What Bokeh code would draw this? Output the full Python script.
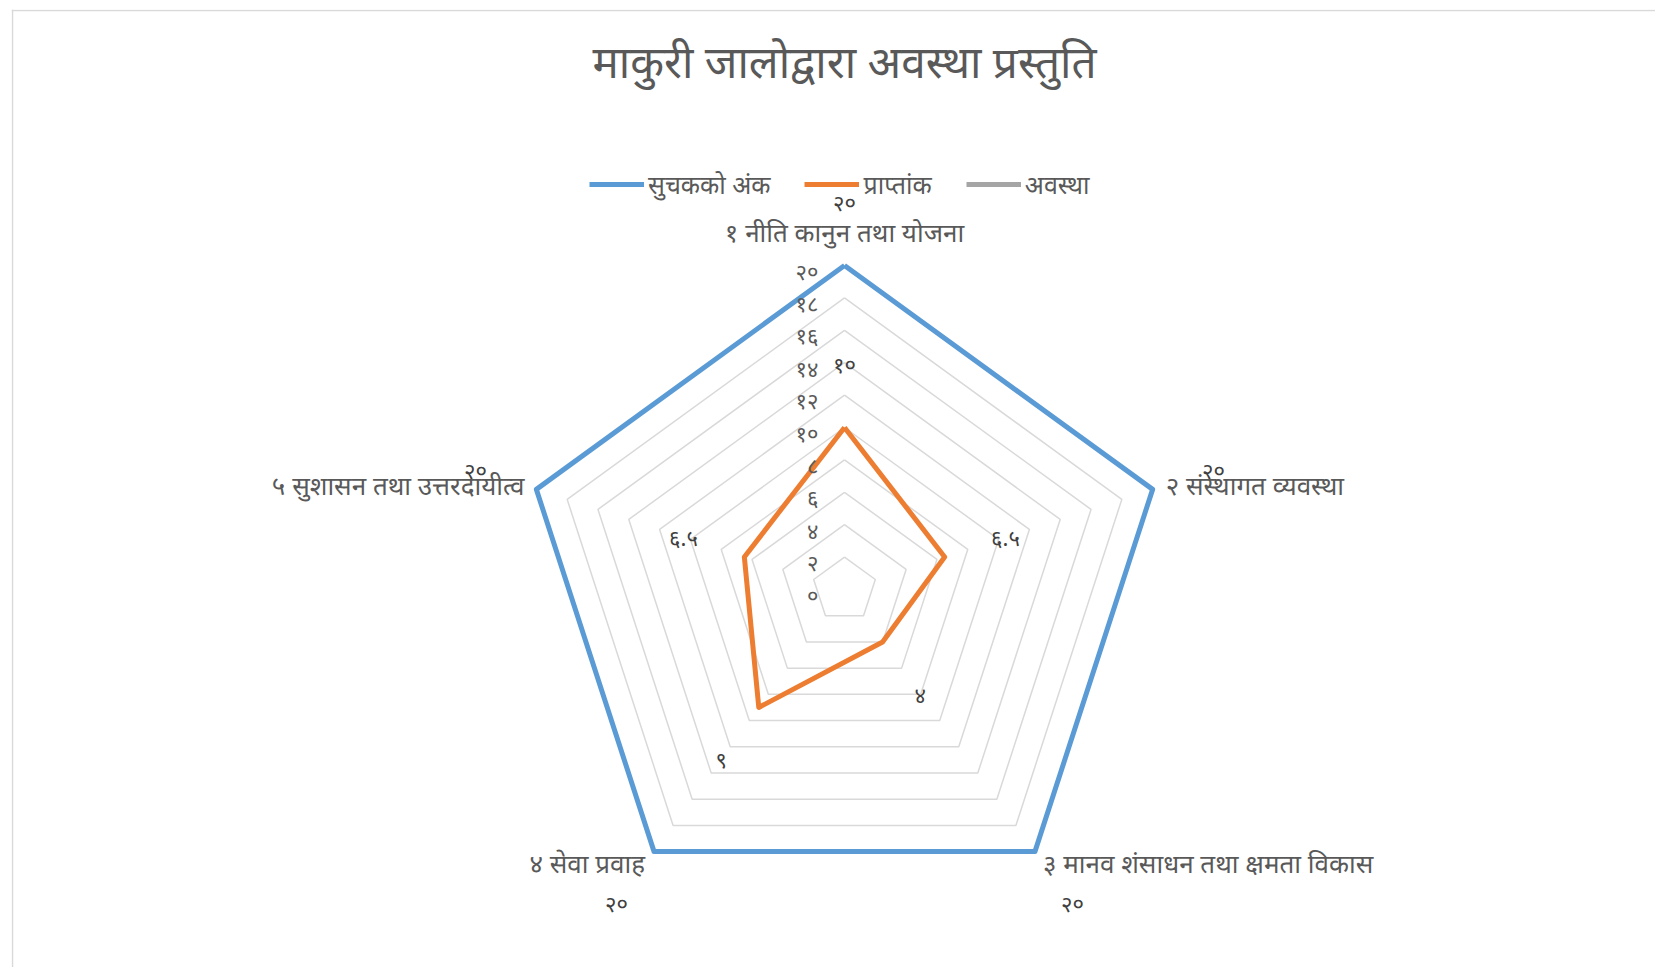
import numpy as np
from bokeh.plotting import figure
from bokeh.models import ColumnDataSource, Range1d, Legend, LegendItem, Span
from bokeh.core.properties import value
from bokeh.embed import file_html
from bokeh.resources import INLINE

# ---------------- data ----------------
title_text = "माकुरी जालोद्वारा अवस्था प्रस्तुति"
categories = [
    "१ नीति कानुन तथा योजना",
    "२ संस्थागत व्यवस्था",
    "३ मानव शंसाधन तथा क्षमता विकास",
    "४ सेवा प्रवाह",
    "५ सुशासन तथा उत्तरदायीत्व",
]
series_names = ["सुचकको अंक", "प्राप्तांक", "अवस्था"]
indicator_marks = [20, 20, 20, 20, 20]
indicator_labels = ["२०", "२०", "२०", "२०", "२०"]
obtained_marks = [10, 6.5, 4, 9, 6.5]
obtained_labels = ["१०", "६.५", "४", "९", "६.५"]
status_values = []  # third series has no plotted values
tick_values = [0, 2, 4, 6, 8, 10, 12, 14, 16, 18, 20]
tick_labels = ["०", "२", "४", "६", "८", "१०", "१२", "१४", "१६", "१८", "२०"]

# ---------------- layout / style ----------------
FONT = "Noto Sans"
W, H = 1644, 958
CX, CY = 833, 580          # radar centre in canvas pixels
PX = 16.2                  # pixels per unit
LABEL_PAD = 3.95           # data label radial offset (units)
BLUE, ORANGE, GRAY = "#5B9BD5", "#ED7D31", "#A5A5A5"
TEXT = "#595959"

n = len(categories)
theta = np.arange(n) * 2 * np.pi / n


def polar(vals, pad=0.0):
    v = np.asarray(vals, dtype=float) + pad
    return v * np.sin(theta), v * np.cos(theta)


def closed(vals):
    x, y = polar(vals)
    return list(x) + [x[0]], list(y) + [y[0]]


xr = Range1d(-CX / PX, (W - CX) / PX)
yr = Range1d(-(H - CY) / PX, CY / PX)
p = figure(width=W, height=H, margin=(9, 0, 0, 11), x_range=xr, y_range=yr,
           x_axis_location=None, y_axis_location=None,
           output_backend="svg", toolbar_location=None, min_border=0)
p.grid.visible = False
p.outline_line_color = None
p.background_fill_color = "white"
p.border_fill_color = "white"

# chart-area border (left and top edges visible in the view)
p.add_layout(Span(location=xr.start + 1.0 / PX, dimension="height",
                  line_color="#D9D9D9", line_width=1.5))
p.add_layout(Span(location=yr.end - 1.0 / PX, dimension="width",
                  line_color="#D9D9D9", line_width=1.5))

# grid rings
ring_xs, ring_ys = [], []
for t in tick_values[1:]:
    xs, ys = closed([t] * n)
    ring_xs.append(xs)
    ring_ys.append(ys)
p.multi_line(ring_xs, ring_ys, line_color="#D9D9D9", line_width=1.5)

# series
bx, by = closed(indicator_marks)
r_blue = p.line(bx, by, line_color=BLUE, line_width=5, line_join="round")
ox, oy = closed(obtained_marks)
r_orange = p.line(ox, oy, line_color=ORANGE, line_width=5, line_join="round")
gvals = status_values if status_values else [np.nan]
r_gray = p.line(x=gvals, y=gvals, line_color=GRAY, line_width=5)

# tick labels along the first axis
p.text(x=[0] * len(tick_values), y=tick_values, text=tick_labels,
       x_offset=-26, y_offset=5, text_align="right", text_baseline="middle",
       text_font=value(FONT), text_font_size="22px", text_color=TEXT)

# data labels
lx, ly = polar(indicator_marks, LABEL_PAD)
p.text(x=lx, y=ly, text=indicator_labels, text_align="center", text_baseline="middle",
       text_font=value(FONT), text_font_size="22px", text_color="#404040")
lx, ly = polar(obtained_marks, LABEL_PAD)
p.text(x=lx, y=ly, text=obtained_labels, text_align="center", text_baseline="middle",
       text_font=value(FONT), text_font_size="22px", text_color="#404040")

# category labels
cx, cy = polar([tick_values[-1]] * n)
cat_src = ColumnDataSource(dict(
    x=cx, y=cy, text=categories,
    xo=[0, 13, 8, -9, -12],
    yo=[-34, -4, 11, 11, -4],
    align=["center", "left", "left", "right", "right"],
))
p.text(x="x", y="y", text="text", x_offset="xo", y_offset="yo", text_align="align",
       text_baseline="middle", source=cat_src,
       text_font=value(FONT), text_font_size="26px", text_color=TEXT)

# title
p.text(x=[0], y=[(CY - 54) / PX], text=[title_text], text_align="center",
       text_baseline="middle", y_offset=-3, text_font=value(FONT),
       text_font_size="44px", text_color=TEXT)

# legend
legend = Legend(items=[LegendItem(label=series_names[0], renderers=[r_blue]),
                       LegendItem(label=series_names[1], renderers=[r_orange]),
                       LegendItem(label=series_names[2], renderers=[r_gray])],
                orientation="horizontal", location=(578, H - 192),
                glyph_width=55, glyph_height=24, label_height=24,
                label_standoff=4, spacing=34,
                padding=0, margin=0, border_line_color=None,
                background_fill_alpha=0,
                label_text_font=FONT, label_text_font_size="25px",
                label_text_color=TEXT)
p.add_layout(legend)

open("out.html", "w").write(file_html(p, INLINE))
